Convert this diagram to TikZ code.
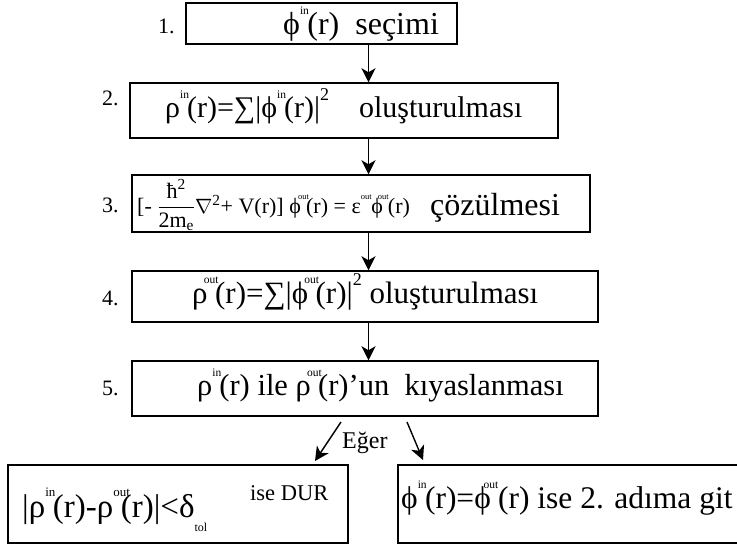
\documentclass[tikz,border=0pt]{standalone}
\usepackage{amsmath}
\usepackage{fontspec}
\setmainfont{Liberation Serif}
\usetikzlibrary{arrows.meta}
\def\supsz{11.5}
\newcommand{\supa}[1]{\rlap{\raisebox{0.62em}{\fontsize{\supsz}{\supsz}\selectfont #1}}\kern0.23em}
\newcommand{\supb}[1]{\kern-0.12em\rlap{\raisebox{0.62em}{\fontsize{\supsz}{\supsz}\selectfont #1}}\kern0.36em}
\newcommand{\supc}[1]{\kern-0.23em\rlap{\raisebox{0.62em}{\fontsize{\supsz}{\supsz}\selectfont #1}}\kern0.46em}
\begin{document}
\begin{tikzpicture}[x=1pt,y=-1pt,
  box/.style={draw, line width=1.5pt, inner sep=0pt},
  txt/.style={anchor=base west, inner sep=0pt, font=\fontsize{30}{30}\selectfont},
  num/.style={anchor=base west, inner sep=0pt, font=\fontsize{22}{22}\selectfont},
  arr/.style={-{Stealth[length=14pt,width=14pt,inset=4pt]}, line width=1.4pt}]
\useasboundingbox[fill=white] (0,0) rectangle (737,549);
% boxes
\node[box, minimum width=271pt, minimum height=41pt] (b1) at (321.5,23.5) {};
\node[box, minimum width=428pt, minimum height=55pt] (b2) at (344,110.5) {};
\node[box, minimum width=458pt, minimum height=57pt] (b3) at (361,203.5) {};
\node[box, minimum width=466pt, minimum height=51pt] (b4) at (365,296.5) {};
\node[box, minimum width=466pt, minimum height=55pt] (b5) at (365,388.5) {};
\node[box, minimum width=340pt, minimum height=78pt] (b6) at (178,504) {};
\node[box, minimum width=347pt, minimum height=78pt] (b7) at (571.5,504) {};
% numbers
\node[num] (n1) at (158,33) {1.};
\node[num] (n2) at (102,105) {2.};
\node[num] (n3) at (102,212) {3.};
\node[num] (n4) at (102,305) {4.};
\node[num] (n5) at (102,395) {5.};
% texts
\node[txt, font=\fontsize{32}{32}\selectfont] (t1) at (283,34) {ϕ\supa{in}(r)\ \ seçimi};
\node[txt] (t2) at (165,117) {ρ\supa{in}(r)=∑|ϕ\supa{in}(r)|\raisebox{0.55em}{\fontsize{18}{18}\selectfont 2}\hspace{30pt}oluşturulması};
\node[txt, font=\fontsize{22}{22}\selectfont] (t3) at (137,213) {\def\supsz{8.5}[-\ $\dfrac{\text{ħ}^{\text{2}}}{\text{2m}_{\text{e}}}$$\nabla^{\text{2}}$+ V(r)] ϕ\supb{out}(r) = ε\supa{out}\ ϕ\supc{out}(r)};
\node[txt, font=\fontsize{32}{32}\selectfont] (t3b) at (430,215) {çözülmesi};
\node[txt, font=\fontsize{31}{31}\selectfont] (t4) at (192,303) {ρ\supb{out}(r)=∑|ϕ\supb{out}(r)|\raisebox{0.55em}{\fontsize{18}{18}\selectfont 2} oluşturulması};
\node[txt, font=\fontsize{30.5}{30.5}\selectfont] (t5) at (197,395) {ρ\supa{in}(r) ile ρ\supb{out}(r)’un\ \ kıyaslanması};
\node[txt, font=\fontsize{33}{33}\selectfont] (t6) at (22,517) {\def\supsz{13}|ρ\supa{in}(r)-ρ\supa{out}(r)|<δ\raisebox{-0.45em}{\fontsize{12}{12}\selectfont tol}};
\node[txt, font=\fontsize{22.5}{22.5}\selectfont] (t6b) at (250,500) {ise\ DUR};
\node[txt, font=\fontsize{31.5}{31.5}\selectfont] (t7) at (401,508) {ϕ\supa{in}(r)=ϕ\supc{out}(r) ise 2. adıma git};
\node[num, font=\fontsize{24}{24}\selectfont] (eg) at (342,448) {Eğer};
% arrows
\coordinate (ax) at (368.5,0);
\draw[arr] (b1.south -| ax) -- (b2.north -| ax);
\draw[arr] (b2.south -| ax) -- (b3.north -| ax);
\draw[arr] (b3.south -| ax) -- (b4.north -| ax);
\draw[arr] (b4.south -| ax) -- (b5.north -| ax);
\coordinate (l1) at (341,422);
\coordinate (l2) at (315,461);
\coordinate (r1) at (407,422);
\coordinate (r2) at (423,460);
\draw[arr] (l1) -- (l2);
\draw[arr] (r1) -- (r2);
\end{tikzpicture}
\end{document}
